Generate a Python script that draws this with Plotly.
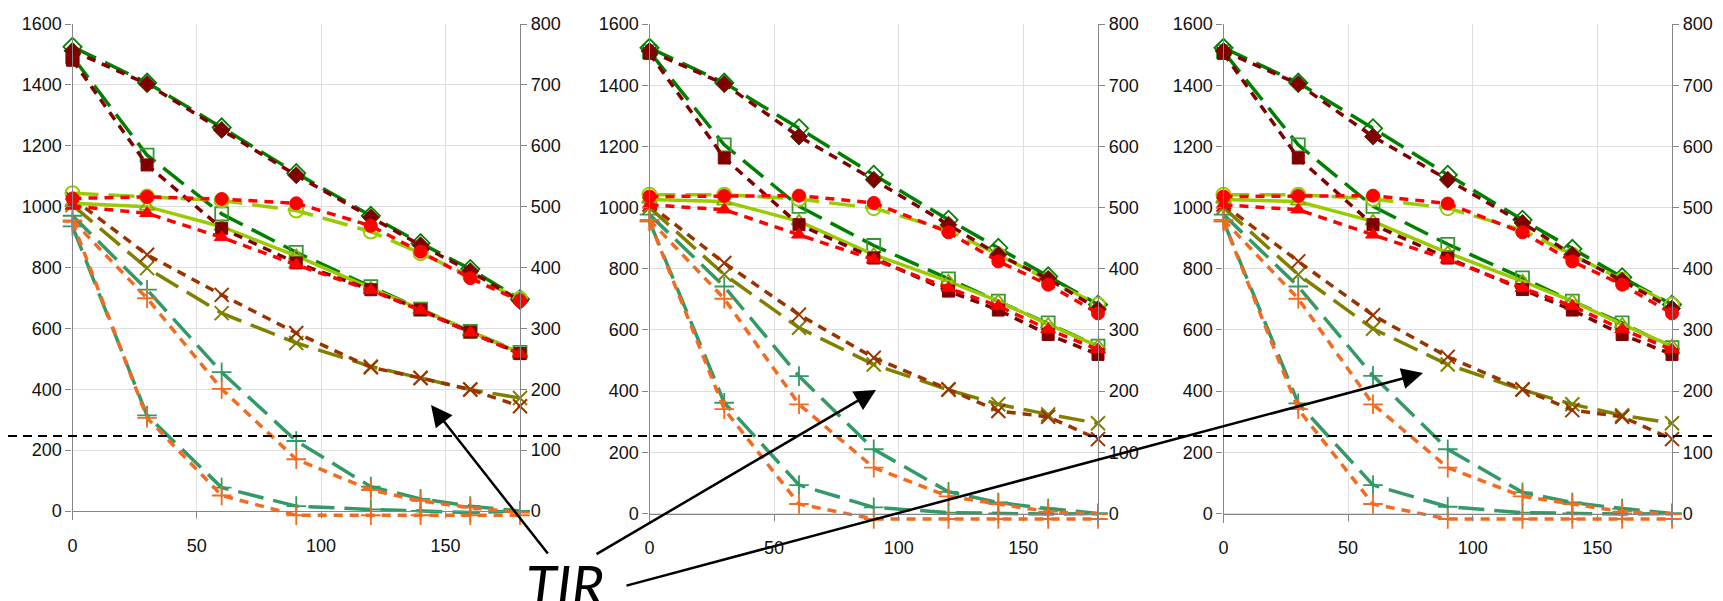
import plotly.graph_objects as go

W, H = 1723, 601
MINUTES = [0, 30, 60, 90, 120, 140, 160, 180]
THRESHOLD = 246  # left-axis units, dashed reference line

# ---------------- Panel 1 ----------------
P1_DIAMOND_MAROON = [1512, 1403, 1252, 1103, 965, 873, 788, 690]
P1_DIAMOND_GREEN = [1525, 1407, 1260, 1110, 970, 880, 795, 696]
P1_SQUARE_MAROON = [1481, 1137, 929, 815, 727, 661, 588, 517]
P1_SQUARE_GREEN = [1492, 1169, 976, 850, 737, 663, 590, 521]
P1_CIRCLE_RED = [1027, 1032, 1025, 1011, 937, 852, 765, 690]
P1_CIRCLE_YG = [1044, 1033, 1020, 987, 918, 847, 773, 697]
P1_TRIANGLE_RED = [1002, 978, 899, 809, 725, 659, 586, 516]
P1_TRIANGLE_YG = [1011, 1000, 934, 838, 732, 663, 590, 520]
P1_X_BROWN = [1027, 842, 710, 585, 472, 437, 399, 344]
P1_X_OLIVE = [1005, 798, 650, 552, 475, 437, 399, 371]
P1_PLUS_TEAL_MID = [970, 727, 456, 230, 80, 40, 16, 0]
P1_PLUS_ORANGE_MID = [955, 699, 401, 170, 69, 33, 11, -5]
P1_PLUS_TEAL_FAST = [935, 314, 77, 16, 5, 0, -5, 0]
P1_PLUS_ORANGE_FAST = [950, 306, 51, -14, -14, -14, -14, -14]

# ---------------- Panel 2 ----------------
P2_DIAMOND_MAROON = [1512, 1404, 1232, 1091, 944, 846, 767, 668]
P2_DIAMOND_GREEN = [1522, 1408, 1259, 1107, 960, 868, 775, 683]
P2_SQUARE_MAROON = [1504, 1162, 944, 835, 727, 665, 585, 520]
P2_SQUARE_GREEN = [1510, 1205, 1004, 876, 767, 694, 623, 547]
P2_CIRCLE_RED = [1036, 1038, 1039, 1015, 919, 824, 748, 654]
P2_CIRCLE_YG = [1042, 1042, 1028, 998, 926, 846, 765, 683]
P2_TRIANGLE_RED = [1009, 993, 911, 830, 737, 678, 602, 536]
P2_TRIANGLE_YG = [1026, 1020, 955, 846, 759, 694, 618, 547]
P2_X_BROWN = [1010, 819, 650, 509, 406, 335, 316, 243]
P2_X_OLIVE = [1000, 781, 607, 487, 404, 357, 324, 295]
P2_PLUS_TEAL_MID = [977, 742, 449, 210, 71, 36, 16, 0]
P2_PLUS_ORANGE_MID = [960, 702, 357, 150, 56, 31, 6, -2]
P2_PLUS_TEAL_FAST = [955, 362, 93, 20, 3, 0, -2, 0]
P2_PLUS_ORANGE_FAST = [955, 341, 31, -18, -18, -18, -18, -18]

# ---------------- Panel 3 ----------------
P3_DIAMOND_MAROON = [1512, 1404, 1232, 1091, 950, 846, 761, 670]
P3_DIAMOND_GREEN = [1522, 1408, 1259, 1107, 960, 865, 772, 683]
P3_SQUARE_MAROON = [1504, 1162, 944, 835, 732, 665, 585, 520]
P3_SQUARE_GREEN = [1510, 1205, 1004, 880, 770, 694, 623, 542]
P3_CIRCLE_RED = [1036, 1038, 1039, 1013, 919, 824, 748, 654]
P3_CIRCLE_YG = [1042, 1042, 1028, 998, 926, 846, 765, 683]
P3_TRIANGLE_RED = [1009, 993, 911, 830, 737, 678, 602, 536]
P3_TRIANGLE_YG = [1026, 1020, 955, 852, 759, 694, 618, 547]
P3_X_BROWN = [1010, 824, 648, 512, 406, 338, 316, 243]
P3_X_OLIVE = [1000, 781, 604, 487, 404, 357, 321, 295]
P3_PLUS_TEAL_MID = [977, 742, 450, 210, 69, 36, 16, 0]
P3_PLUS_ORANGE_MID = [960, 702, 357, 150, 56, 31, 6, -2]
P3_PLUS_TEAL_FAST = [955, 360, 93, 22, 3, 0, -2, 0]
P3_PLUS_ORANGE_FAST = [955, 341, 31, -18, -18, -18, -18, -18]

LEFT_TICKS = [0, 200, 400, 600, 800, 1000, 1200, 1400, 1600]
RIGHT_TICKS = [0, 100, 200, 300, 400, 500, 600, 700, 800]
X_TICKS = [0, 50, 100, 150]

PANELS = [
    dict(diamond_maroon=P1_DIAMOND_MAROON, diamond_green=P1_DIAMOND_GREEN,
         square_maroon=P1_SQUARE_MAROON, square_green=P1_SQUARE_GREEN,
         circle_red=P1_CIRCLE_RED, circle_yg=P1_CIRCLE_YG,
         triangle_red=P1_TRIANGLE_RED, triangle_yg=P1_TRIANGLE_YG,
         x_brown=P1_X_BROWN, x_olive=P1_X_OLIVE,
         plus_teal_mid=P1_PLUS_TEAL_MID, plus_orange_mid=P1_PLUS_ORANGE_MID,
         plus_teal_fast=P1_PLUS_TEAL_FAST, plus_orange_fast=P1_PLUS_ORANGE_FAST),
    dict(diamond_maroon=P2_DIAMOND_MAROON, diamond_green=P2_DIAMOND_GREEN,
         square_maroon=P2_SQUARE_MAROON, square_green=P2_SQUARE_GREEN,
         circle_red=P2_CIRCLE_RED, circle_yg=P2_CIRCLE_YG,
         triangle_red=P2_TRIANGLE_RED, triangle_yg=P2_TRIANGLE_YG,
         x_brown=P2_X_BROWN, x_olive=P2_X_OLIVE,
         plus_teal_mid=P2_PLUS_TEAL_MID, plus_orange_mid=P2_PLUS_ORANGE_MID,
         plus_teal_fast=P2_PLUS_TEAL_FAST, plus_orange_fast=P2_PLUS_ORANGE_FAST),
    dict(diamond_maroon=P3_DIAMOND_MAROON, diamond_green=P3_DIAMOND_GREEN,
         square_maroon=P3_SQUARE_MAROON, square_green=P3_SQUARE_GREEN,
         circle_red=P3_CIRCLE_RED, circle_yg=P3_CIRCLE_YG,
         triangle_red=P3_TRIANGLE_RED, triangle_yg=P3_TRIANGLE_YG,
         x_brown=P3_X_BROWN, x_olive=P3_X_OLIVE,
         plus_teal_mid=P3_PLUS_TEAL_MID, plus_orange_mid=P3_PLUS_ORANGE_MID,
         plus_teal_fast=P3_PLUS_TEAL_FAST, plus_orange_fast=P3_PLUS_ORANGE_FAST),
]

# ---------------- styles ----------------
MAROON = "#800000"
GREEN = "#008000"
RED = "#FF0000"
YG = "#99CC00"
BROWN = "#993300"
OLIVE = "#808000"
ORANGE = "#F26B21"
TEAL = "#339966"
SHORT = "9px,7px"
LONG = "26px,10px"

STYLES = [
    # key, line color, dash, marker symbol, marker color, marker line color, size, marker line width
    ("plus_teal_fast", TEAL, LONG, "cross-thin", TEAL, TEAL, 14, 1.8),
    ("plus_orange_fast", ORANGE, SHORT, "cross-thin", ORANGE, ORANGE, 14, 1.8),
    ("plus_teal_mid", TEAL, LONG, "cross-thin", TEAL, TEAL, 14, 1.8),
    ("plus_orange_mid", ORANGE, SHORT, "cross-thin", ORANGE, ORANGE, 14, 1.8),
    ("x_olive", OLIVE, LONG, "x-thin", OLIVE, OLIVE, 14, 2),
    ("x_brown", BROWN, SHORT, "x-thin", BROWN, BROWN, 14, 2),
    ("square_green", GREEN, LONG, "square-open", "#339933", "#339933", 13, 1.8),
    ("diamond_green", GREEN, LONG, "diamond-open", GREEN, GREEN, 14, 1.8),
    ("circle_yg", YG, LONG, "circle-open", YG, YG, 14, 2),
    ("triangle_yg", YG, "solid", "triangle-up-open", "#8AA800", "#8AA800", 13, 1.8),
    ("square_maroon", MAROON, SHORT, "square", MAROON, MAROON, 12, 1),
    ("diamond_maroon", MAROON, SHORT, "diamond", MAROON, "#5a2a00", 13, 1),
    ("triangle_red", RED, SHORT, "triangle-up", RED, RED, 13, 1),
    ("circle_red", RED, SHORT, "circle", RED, RED, 13, 1),
]

# pixel geometry of the three plot areas
X_PIX = [(64.5, 512.0), (641.5, 1090.0), (1215.5, 1664.0)]
Y_TOP_PIX = 16.0
Y_ZERO_PIX = [503.0, 505.5, 505.5]
Y_MIN = -30

fig = go.Figure()

FONT = "Liberation Sans, Arial, sans-serif"
layout = dict(width=W, height=H, autosize=False,
              margin=dict(l=0, r=0, t=0, b=0, pad=0, autoexpand=False),
              paper_bgcolor="white", plot_bgcolor="white",
              showlegend=False, font=dict(family=FONT, size=18, color="#111111"))

for i, panel in enumerate(PANELS):
    n = i + 1
    xs = "" if n == 1 else str(n)
    for key, lc, dash, sym, mc, mlc, size, mlw in STYLES:
        fig.add_trace(go.Scatter(
            x=MINUTES, y=panel[key], mode="lines+markers",
            xaxis="x" + xs, yaxis="y" + xs,
            line=dict(color=lc, width=3.5, dash=dash),
            marker=dict(symbol=sym, color=mc, size=size,
                        line=dict(color=mlc, width=mlw)),
            cliponaxis=False, hoverinfo="x+y"))
    # empty series that carries the secondary (right-hand) axis
    fig.add_trace(go.Scatter(x=MINUTES, y=[None] * len(MINUTES), mode="lines",
                             xaxis="x" + xs, yaxis="y" + str(n + 3),
                             hoverinfo="skip", showlegend=False))

    x0p, x1p = X_PIX[i]
    zp = Y_ZERO_PIX[i]
    upp = 1600.0 / (zp - Y_TOP_PIX)
    bottom_pix = zp - Y_MIN / upp
    dom_y = [1 - bottom_pix / H, 1 - Y_TOP_PIX / H]
    axis_common = dict(showline=True, linecolor="#868686", linewidth=1.3,
                       ticks="outside", ticklen=6, tickcolor="#868686",
                       automargin=False,
                       tickfont=dict(family=FONT, size=18, color="#111111"))
    layout["xaxis" + xs] = dict(domain=[x0p / W, x1p / W], range=[0, 180],
                                tickvals=X_TICKS, anchor="free",
                                position=1 - zp / H, showgrid=True,
                                gridcolor="#dedede", gridwidth=1, zeroline=False,
                                ticklabelstandoff=12, **axis_common)
    layout["yaxis" + xs] = dict(domain=dom_y, range=[Y_MIN, 1600], anchor="x" + xs,
                                tickvals=LEFT_TICKS, showgrid=True,
                                gridcolor="#dedede", gridwidth=1, zeroline=False,
                                ticklabelstandoff=0, **axis_common)
    layout["yaxis" + str(n + 3)] = dict(overlaying="y" + xs, side="right",
                                        anchor="x" + xs, range=[Y_MIN / 2, 800],
                                        tickvals=RIGHT_TICKS, showgrid=False,
                                        zeroline=False, ticklabelstandoff=0,
                                        **axis_common)

fig.update_layout(**layout)

# dashed reference line across the whole figure
fig.add_shape(type="line", xref="paper", yref="y", x0=0, x1=1,
              y0=THRESHOLD, y1=THRESHOLD,
              line=dict(color="black", width=2, dash="9px,6px"))

# TIR label and arrows
ARROWS = [((423, 397), (541, 547)), ((868, 382), (587, 547)), ((1415, 365), (617, 578))]
for (hx, hy), (tx, ty) in ARROWS:
    fig.add_annotation(x=hx / W, y=1 - hy / H, xref="paper", yref="paper",
                       ax=tx - hx, ay=ty - hy, axref="pixel", ayref="pixel",
                       text="", showarrow=True, arrowhead=2, arrowsize=1.7,
                       arrowwidth=2.5, arrowcolor="black", standoff=0)
fig.add_annotation(x=557 / W, y=1 - 576 / H, xref="paper", yref="paper",
                   text="<i>TIR</i>", showarrow=False, xanchor="center",
                   yanchor="middle", font=dict(family="Lato, sans-serif", size=56,
                                                color="black"))

fig.write_html("out.html")
